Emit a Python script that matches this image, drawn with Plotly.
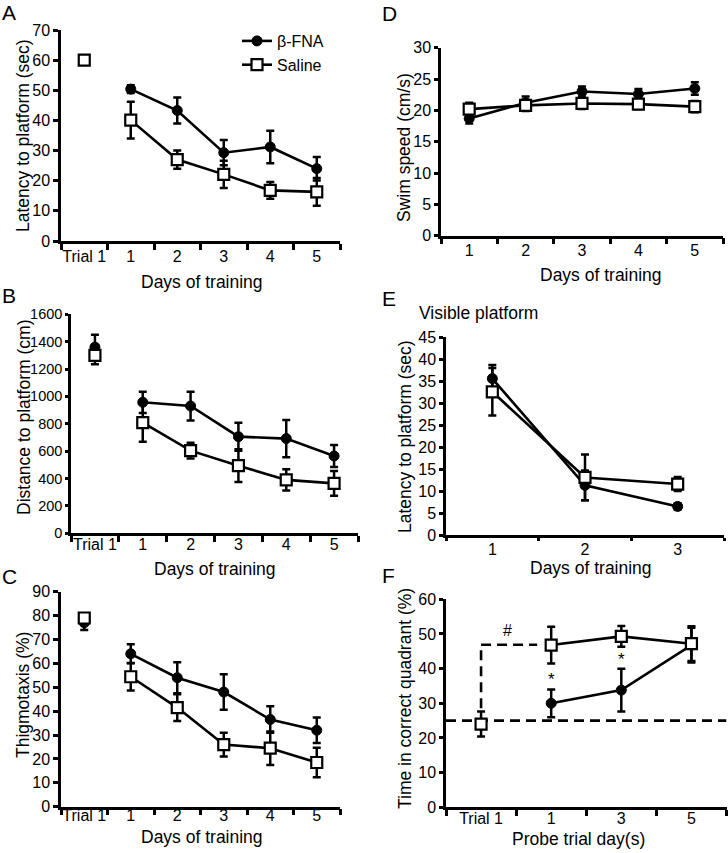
import plotly.graph_objects as go

W, H = 728, 853
FONT = "Liberation Sans, Arial, sans-serif"

# ---------------- data ----------------
# Panel A: latency to platform (sec)
a_cats = ["Trial 1", "1", "2", "3", "4", "5"]
a_trial_fna, a_trial_fna_err = 60.0, 0.5
a_trial_sal, a_trial_sal_err = 60.0, 0.8
a_fna = [50.4, 43.3, 29.3, 31.2, 24.0]
a_fna_err = [1.3, 4.3, 4.2, 5.4, 3.9]
a_sal = [40.1, 27.0, 22.1, 16.8, 16.3]
a_sal_err = [6.1, 3.0, 4.5, 2.8, 4.6]

# Panel B: distance to platform (cm)
b_cats = ["Trial 1", "1", "2", "3", "4", "5"]
b_trial_fna, b_trial_fna_err = 1360, 90
b_trial_sal, b_trial_sal_err = 1300, 65
b_fna = [957, 930, 706, 692, 565]
b_fna_err = [78, 105, 102, 136, 80]
b_sal = [808, 604, 494, 390, 365]
b_sal_err = [140, 58, 120, 78, 90]

# Panel C: thigmotaxis (%)
c_cats = ["Trial 1", "1", "2", "3", "4", "5"]
c_trial_fna, c_trial_fna_err = 77.0, 3.0
c_trial_sal, c_trial_sal_err = 79.0, 2.0
c_fna = [64.0, 54.0, 48.0, 36.5, 32.0]
c_fna_err = [4.0, 6.5, 7.4, 5.5, 5.3]
c_sal = [54.4, 41.5, 26.0, 24.5, 18.5]
c_sal_err = [5.8, 5.6, 5.0, 7.0, 6.2]

# Panel D: swim speed (cm/s)
d_cats = ["1", "2", "3", "4", "5"]
d_fna = [18.7, 21.2, 23.0, 22.6, 23.5]
d_fna_err = [0.8, 1.0, 0.8, 0.8, 1.0]
d_sal = [20.2, 20.8, 21.1, 21.0, 20.6]
d_sal_err = [1.0, 0.9, 0.9, 0.8, 0.9]

# Panel E: visible platform latency (sec)
e_cats = ["1", "2", "3"]
e_fna = [35.6, 11.3, 6.5]
e_fna_err = [3.1, 3.4, 0.7]
e_sal = [32.6, 13.1, 11.6]
e_sal_err = [5.4, 5.2, 1.6]

# Panel F: time in correct quadrant (%)
f_cats = ["Trial 1", "1", "3", "5"]
f_trial_sal, f_trial_sal_err = 24.0, 3.6
f_fna = [30.0, 33.8, 46.8]
f_fna_err = [4.0, 6.2, 5.0]
f_sal = [46.8, 49.3, 47.2]
f_sal_err = [5.3, 3.0, 5.0]
f_chance = 25
f_hash_level = 46.9


def xd(px):
    return px / W


def yd(py):
    return 1 - py / H


panels = {
    # name: (x px domain, y px domain (top,bottom), ymax, dtick, cats,
    #        x label standoff, y tick font, y tick len, x tick len)
    "A": ((61, 340), (30, 241), 70, 10, a_cats, -1, 16, 5, 6),
    "B": ((71, 358), (314.3, 533.3), 1600, 200, b_cats, -5, 14.5, 3, 6),
    "C": ((61, 340), (591.7, 806.7), 90, 10, c_cats, -8, 16, 5, 6),
    "D": ((441, 723), (47.7, 235.7), 30, 5, d_cats, -2, 16, 4, 6),
    "E": ((446, 724), (337.3, 535), 45, 5, e_cats, -2, 16, 4, 3),
    "F": ((446, 726.5), (599.3, 807.3), 60, 10, f_cats, -5, 16, 4, 6),
}
order = ["A", "B", "C", "D", "E", "F"]
axid = {k: i + 1 for i, k in enumerate(order)}

layout = dict(
    width=W, height=H, margin=dict(l=0, r=0, t=0, b=0),
    paper_bgcolor="white", plot_bgcolor="white",
    font=dict(family=FONT, size=16, color="black"),
    showlegend=True,
    legend=dict(x=xd(237), y=yd(24), xanchor="left", yanchor="top",
                bgcolor="rgba(0,0,0,0)", font=dict(size=16, family=FONT),
                tracegroupgap=0, itemwidth=30),
)

for k in order:
    (x0, x1), (yt, yb), ymax, dt, cats, xstand, yfs, ytl, xtl = panels[k]
    i = axid[k]
    n = len(cats)
    xs = "" if i == 1 else str(i)
    layout["xaxis" + xs] = dict(
        type="category", categoryorder="array", categoryarray=cats,
        domain=[xd(x0), xd(x1)], range=[-0.5, n - 0.5],
        tickson="boundaries", ticks="outside", ticklen=xtl, tickwidth=2.5,
        tickcolor="black", ticklabelstandoff=xstand, tickangle=0,
        showline=True, linewidth=2.5, linecolor="black",
        showgrid=False, zeroline=False, anchor="y" + xs,
        tickfont=dict(family=FONT, size=16, color="black"),
        automargin=False, fixedrange=True,
    )
    layout["yaxis" + xs] = dict(
        domain=[yd(yb), yd(yt)], range=[0, ymax], tick0=0, dtick=dt,
        ticks="outside", ticklen=ytl, tickwidth=2.5, tickcolor="black",
        showline=True, linewidth=2.5, linecolor="black",
        showgrid=False, zeroline=False, anchor="x" + xs,
        tickfont=dict(family=FONT, size=yfs, color="black"),
        automargin=False, fixedrange=True,
    )

fig = go.Figure(layout=layout)


def refs(k):
    i = axid[k]
    s = "" if i == 1 else str(i)
    return "x" + s, "y" + s


def add_series(k, xs, ys, errs, kind, mode="lines+markers", legend=False, name=None):
    xa, ya = refs(k)
    if kind == "fna":
        marker = dict(symbol="circle", size=10, color="black",
                      line=dict(color="black", width=1))
    else:
        marker = dict(symbol="square", size=11, color="white",
                      line=dict(color="black", width=2.2))
    fig.add_trace(go.Scatter(
        x=xs, y=ys, mode=mode, xaxis=xa, yaxis=ya,
        line=dict(color="black", width=2.6),
        marker=marker,
        error_y=dict(type="data", array=errs, visible=True, color="black",
                     thickness=2.5, width=4),
        name=name, showlegend=legend, cliponaxis=False,
    ))


# A
add_series("A", a_cats[:1], [a_trial_fna], [a_trial_fna_err], "fna", mode="markers")
add_series("A", a_cats[:1], [a_trial_sal], [a_trial_sal_err], "sal", mode="markers")
add_series("A", a_cats[1:], a_fna, a_fna_err, "fna", legend=True, name="β-FNA")
add_series("A", a_cats[1:], a_sal, a_sal_err, "sal", legend=True, name="Saline")
# B
add_series("B", b_cats[:1], [b_trial_fna], [b_trial_fna_err], "fna", mode="markers")
add_series("B", b_cats[:1], [b_trial_sal], [b_trial_sal_err], "sal", mode="markers")
add_series("B", b_cats[1:], b_fna, b_fna_err, "fna")
add_series("B", b_cats[1:], b_sal, b_sal_err, "sal")
# C
add_series("C", c_cats[:1], [c_trial_fna], [c_trial_fna_err], "fna", mode="markers")
add_series("C", c_cats[:1], [c_trial_sal], [c_trial_sal_err], "sal", mode="markers")
add_series("C", c_cats[1:], c_fna, c_fna_err, "fna")
add_series("C", c_cats[1:], c_sal, c_sal_err, "sal")
# D
add_series("D", d_cats, d_fna, d_fna_err, "fna")
add_series("D", d_cats, d_sal, d_sal_err, "sal")
# E
add_series("E", e_cats, e_fna, e_fna_err, "fna")
add_series("E", e_cats, e_sal, e_sal_err, "sal")
# F
add_series("F", f_cats[:1], [f_trial_sal], [f_trial_sal_err], "sal", mode="markers")
add_series("F", f_cats[1:], f_fna, f_fna_err, "fna")
add_series("F", f_cats[1:], f_sal, f_sal_err, "sal")

# F: dashed reference lines (category-index coordinates), under the data
fx, fy = refs("F")
dash_line = dict(color="black", width=2.6, dash="10px,6px")
shapes = [
    dict(type="line", xref=fx, yref=fy, x0=-0.5, x1=len(f_cats) - 0.5,
         y0=f_chance, y1=f_chance, line=dash_line, layer="below"),
    dict(type="line", xref=fx, yref=fy, x0=0, x1=0,
         y0=f_trial_sal + f_trial_sal_err + 1, y1=f_hash_level, line=dash_line, layer="below"),
    dict(type="line", xref=fx, yref=fy, x0=0, x1=0.8,
         y0=f_hash_level, y1=f_hash_level, line=dash_line, layer="below"),
]

# ---------------- annotations ----------------
ann = []


def text_px(t, x, y, size=17.5, angle=0):
    ann.append(dict(text=t, x=xd(x), y=yd(y), xref="paper", yref="paper",
                    showarrow=False, textangle=angle, xanchor="center",
                    yanchor="middle", font=dict(family=FONT, size=size, color="black")))


# panel letters
for letter, (lx, ly) in {"A": (9, 12), "B": (9, 296), "C": (9, 576),
                         "D": (389, 13), "E": (389, 299), "F": (388, 575)}.items():
    text_px(letter, lx, ly, size=21)

# axis titles
text_px("Days of training", 202, 282)
text_px("Days of training", 215, 569)
text_px("Days of training", 202, 837)
text_px("Days of training", 601, 275)
text_px("Days of training", 591, 568)
text_px("Probe trial day(s)", 578, 839)
text_px("Latency to platform (sec)", 23, 136, angle=-90)
text_px("Distance to platform (cm)", 24, 418, angle=-90)
text_px("Thigmotaxis (%)", 23, 695, angle=-90)
text_px("Swim speed (cm/s)", 404, 148, angle=-90)
text_px("Latency to platform (sec)", 405, 437, angle=-90)
text_px("Time in correct quadrant (%)", 405, 699, angle=-90)
text_px("Visible platform", 478, 313)

# significance marks in F (category-index x positions)
ann.append(dict(text="#", x=0.38, y=51.0, xref=fx, yref=fy, showarrow=False,
                font=dict(family=FONT, size=16, color="black")))
for xi, yv in [(1, 37.0), (2, 42.5)]:
    ann.append(dict(text="*", x=xi, y=yv, xref=fx, yref=fy, showarrow=False,
                    font=dict(family=FONT, size=17, color="black")))

fig.update_layout(annotations=ann, shapes=shapes)
fig.write_html("out.html", config={"displayModeBar": False},
               post_script="document.body.style.margin='0px';")
